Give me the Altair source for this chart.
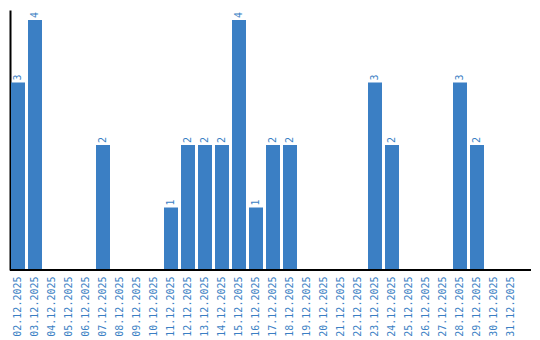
import altair as alt
import pandas as pd

dates = [f"{d:02d}.12.2025" for d in range(2, 32)]
values = [3, 4, 0, 0, 0, 2, 0, 0, 0, 1, 2, 2, 2, 4, 1, 2, 2, 0, 0, 0, 0, 3, 2, 0, 0, 0, 3, 2, 0, 0]

df = pd.DataFrame({"date": dates, "value": values})
df["label"] = df["value"].apply(lambda v: str(v) if v > 0 else "")

color = "#3b7fc4"

base = alt.Chart(df).encode(
    x=alt.X("date:N", sort=dates,
            scale=alt.Scale(paddingInner=3 / 17, paddingOuter=0, range=[1, 508]),
            axis=alt.Axis(title=None, labelAngle=-90, ticks=False, domain=False,
                          labelColor=color, labelFont="DejaVu Sans Mono", labelFontSize=10,
                          labelPadding=6)),
    y=alt.Y("value:Q", scale=alt.Scale(domain=[0, 4.16], nice=False),
            axis=alt.Axis(title=None, labels=False, ticks=False, grid=False,
                          domainColor="black", domainWidth=2)),
)

bars = base.mark_bar(color=color)
text = base.mark_text(angle=270, align="left", baseline="middle", dx=2,
                      color=color, font="DejaVu Sans Mono", fontSize=10).encode(text="label:N")

xline = alt.Chart(df).mark_rule(color="black", strokeWidth=2).encode(
    x=alt.value(0), x2=alt.value(521), y=alt.value(260)
)

chart = (bars + text + xline).properties(
    width=521, height=260,
    autosize=alt.AutoSizeParams(type="none"),
    padding={"left": 10, "top": 10, "right": 9, "bottom": 70},
).configure_view(stroke=None)

chart.save("out.html", embed_options={"renderer": "svg", "actions": False})
